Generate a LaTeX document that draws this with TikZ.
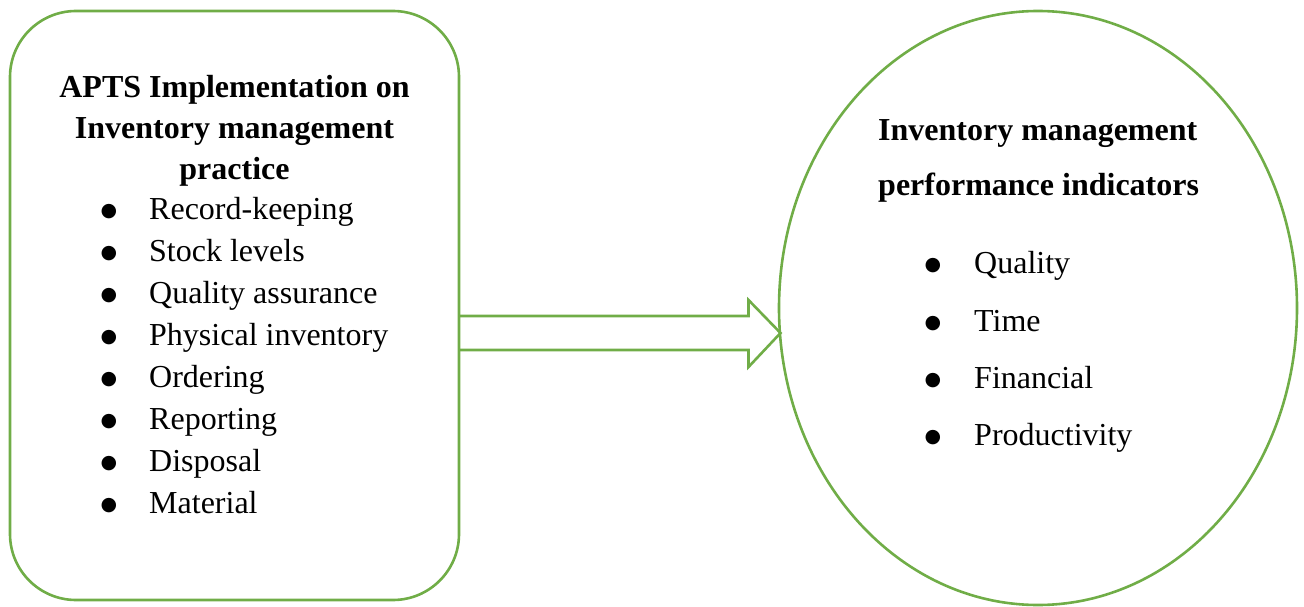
\documentclass[tikz,border=0pt]{standalone}
\usepackage{fontspec}
\setmainfont{Liberation Serif}
\newfontfamily\symfont{DejaVu Sans}
\definecolor{frame}{HTML}{70AD47}
\tikzset{
  shapeline/.style={draw=frame, line width=2.6pt},
  ttl/.style={inner sep=0pt, anchor=base, font=\fontsize{32}{40}\selectfont\bfseries},
  rttl/.style={inner sep=0pt, anchor=base west, font=\fontsize{32}{40}\selectfont\bfseries},
  litem/.style={inner sep=0pt, anchor=base west, font=\fontsize{32}{40}\selectfont},
}
\newcommand{\bigbul}{\raisebox{2.5pt}{\symfont\fontsize{19}{19}\selectfont ●}}
\newcommand{\lb}[1]{\makebox[48.5pt][l]{\bigbul}#1}
\newcommand{\rb}[1]{\makebox[49.5pt][l]{\bigbul}#1}
\begin{document}
\begin{tikzpicture}[x=1pt,y=-1pt]
\useasboundingbox (0,0) rectangle (1304,607);
% left rounded box
\node[shapeline, rounded corners=66pt, minimum width=449pt, minimum height=589pt, inner sep=0pt] (box) at (234.5,305.5) {};
% right ellipse
\draw[shapeline] (1038,308) ellipse [x radius=259, y radius=297];
% block arrow
\coordinate (tail) at (459,333);
\coordinate (tip) at (780.5,333);
\draw[shapeline, line join=miter]
  ([yshift=-17pt]tail) -- ([xshift=-32pt,yshift=-17pt]tip) -- ([xshift=-32pt,yshift=-34pt]tip)
  -- (tip) -- ([xshift=-32pt,yshift=33pt]tip) -- ([xshift=-32pt,yshift=17pt]tip) -- ([yshift=17pt]tail);
% left texts
\node[ttl] (t1) at (234.5,98) {APTS Implementation on};
\node[ttl] (t2) at (234.5,138.5) {Inventory management};
\node[ttl] (t3) at (234.5,179) {practice};
\node[litem] (l1) at (100.5,219) {\lb{Record-keeping}};
\node[litem] (l2) at (100.5,261) {\lb{Stock levels}};
\node[litem] (l3) at (100.5,303) {\lb{Quality assurance}};
\node[litem] (l4) at (100.5,345) {\lb{Physical inventory}};
\node[litem] (l5) at (100.5,387) {\lb{Ordering}};
\node[litem] (l6) at (100.5,429) {\lb{Reporting}};
\node[litem] (l7) at (100.5,471) {\lb{Disposal}};
\node[litem] (l8) at (100.5,513) {\lb{Material}};
% right texts
\node[rttl] (r1) at (878,141) {Inventory management};
\node[rttl] (r2) at (878,196) {performance indicators};
\node[litem] (q1) at (924.5,273) {\rb{Quality}};
\node[litem] (q2) at (924.5,331) {\rb{Time}};
\node[litem] (q3) at (924.5,388) {\rb{Financial}};
\node[litem] (q4) at (924.5,445) {\rb{Productivity}};
\end{tikzpicture}
\end{document}
